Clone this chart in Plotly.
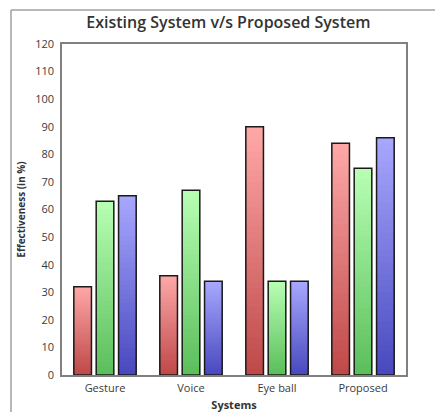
import plotly.graph_objects as go

# Data
systems = ["Gesture", "Voice", "Eye ball", "Proposed"]
series_names = ["Series 1", "Series 2", "Series 3"]
series_1 = [32, 36, 90, 84]
series_2 = [63, 67, 34, 75]
series_3 = [65, 34, 34, 86]
y_ticks = list(range(0, 121, 10))

# Style: per-series gradient (top colour, bottom colour) and group offsets
gradients = [((255, 168, 168), (190, 72, 72)),
             ((184, 255, 180), (90, 190, 90)),
             ((168, 168, 255), (72, 72, 190))]
offsets = [-0.3625, -0.1025, 0.1575]
bar_width = 0.205
steps = 40

W, H = 435, 412
L, R, T, B = 62, 29, 44, 37
PW, PH = W - L - R, H - T - B

fig = go.Figure()

for values, (top, bottom), off, name in zip([series_1, series_2, series_3], gradients, offsets, series_names):
    # gradient: each slice runs from its base up to the bar top, later slices drawn over earlier
    for k in range(steps):
        t = (k + 0.5) / steps
        col = tuple(round(bottom[i] + (top[i] - bottom[i]) * t) for i in range(3))
        fig.add_trace(go.Bar(
            x=systems,
            y=[v * (1 - k / steps) for v in values],
            base=[v * k / steps for v in values],
            offset=off, width=bar_width,
            marker=dict(color="rgb(%d,%d,%d)" % col, line=dict(width=0)),
            showlegend=False, hoverinfo="skip",
        ))
    # outline
    fig.add_trace(go.Bar(
        x=systems, y=values, name=name,
        offset=off, width=bar_width,
        marker=dict(color="rgba(0,0,0,0)", line=dict(color="#1a1a1a", width=1.5)),
        showlegend=False,
    ))

frame_x = (11 - L) / PW
frame_y = (H - B - 10) / PH

fig.update_layout(
    width=W, height=H,
    margin=dict(l=L, r=R, t=T, b=B, autoexpand=False),
    barmode="overlay",
    paper_bgcolor="white", plot_bgcolor="white",
    font=dict(family="Open Sans", color="#444", size=11),
    title=dict(text="Existing System v/s Proposed System", x=0.525, xanchor="center",
               y=1 - 22 / H, yanchor="middle",
               font=dict(family="Open Sans", size=16, color="#333", weight=600)),
    xaxis=dict(range=[-0.5, 3.5], showline=True, mirror=True, linecolor="#808080", linewidth=1.5,
               showgrid=False, ticks="", automargin=False, ticklabelstandoff=2,
               tickfont=dict(size=11, color="#3a3a3a"),
               title=dict(text="Systems", standoff=7,
                          font=dict(size=11, color="#333", weight="bold"))),
    yaxis=dict(range=[0, 120], tickvals=y_ticks, showline=True, mirror=True, linecolor="#808080",
               linewidth=1.5, showgrid=False, zeroline=False, ticks="", ticklen=0, automargin=False,
               ticklabelstandoff=4, tickfont=dict(size=11, color="#3a3a3a"),
               title=dict(text="Effectiveness (in %)", standoff=8,
                          font=dict(size=10, color="#333", weight="bold"))),
    shapes=[
        dict(type="line", xref="paper", yref="paper", x0=frame_x, x1=1.2, y0=frame_y, y1=frame_y,
             line=dict(color="#a0a0a0", width=1.5)),
        dict(type="line", xref="paper", yref="paper", x0=frame_x, x1=frame_x, y0=-0.2, y1=frame_y,
             line=dict(color="#a0a0a0", width=1.5)),
    ],
)

fig.write_html("out.html")
